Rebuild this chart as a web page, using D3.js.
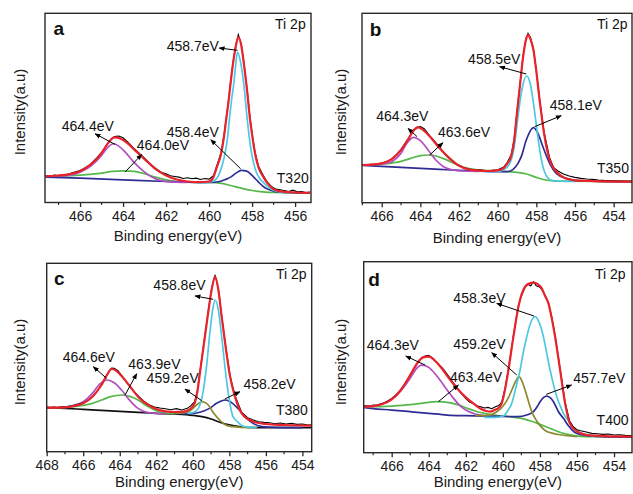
<!DOCTYPE html>
<html><head><meta charset="utf-8">
<script src="https://cdn.jsdelivr.net/npm/d3@7"></script>
<style>body{margin:0;background:#fff}svg{display:block}</style>
</head><body>
<svg id="chart" width="633" height="494"></svg>
<script>
// ---------- DATA (binding energy eV, intensity a.u.) ----------
// Panel a : T320
const aData = [[467.6,80],[467.4,78],[467.2,82],[467.0,81],[466.8,84],[466.6,83],[466.4,88],[466.2,92],[466.0,96],[465.8,103],[465.6,110],[465.4,122],[465.2,135],[465.0,150],[464.8,168],[464.6,186],[464.4,198],[464.2,199],[464.0,194],[463.8,182],[463.5,163],[463.2,145],[463.0,133],[462.8,120],[462.6,108],[462.4,98],[462.2,90],[462.0,86],[461.8,80],[461.6,78],[461.4,76],[461.2,72],[461.0,74],[460.8,71],[460.6,73],[460.4,69],[460.2,72],[460.0,70],[459.8,80],[459.64,110],[459.44,150],[459.3,204],[459.21,250],[459.1,304],[459.02,350],[458.9,414],[458.78,464],[458.64,503],[458.5,474],[458.37,414],[458.25,350],[458.09,250],[457.97,194],[457.86,150],[457.7,109],[457.47,80],[457.3,62],[457.1,48],[456.9,40],[456.7,38],[456.5,36],[456.3,33],[456.1,37],[455.9,32],[455.7,33],[455.5,30],[455.3,31]];
const aEnvelope = [[467.6,79],[467.0,81],[466.5,85],[466.0,94],[465.5,114],[465.0,148],[464.7,178],[464.4,195],[464.1,191],[463.8,178],[463.5,160],[463.0,130],[462.5,101],[462.0,81],[461.5,69],[461.0,63],[460.5,61],[460.0,63],[459.8,76],[459.64,106],[459.44,146],[459.3,200],[459.21,246],[459.1,300],[459.02,346],[458.9,410],[458.78,460],[458.64,496],[458.5,470],[458.37,410],[458.25,346],[458.09,246],[457.97,190],[457.86,146],[457.7,105],[457.47,76],[457.25,55],[457.0,40],[456.5,32],[456.0,30],[455.3,29]];
const aPeak4587 = [[460.5,59],[460.0,61],[459.75,66],[459.5,90],[459.3,135],[459.15,190],[459.06,246],[458.95,310],[458.87,346],[458.78,400],[458.68,451],[458.55,425],[458.37,346],[458.22,246],[458.1,180],[458.0,140],[457.85,100],[457.65,72],[457.47,60],[457.2,44],[457.0,36],[456.5,30],[456.0,29]];
const aPeak4584 = [[467.6,76],[466.0,73],[464.0,68],[462.0,63],[461.0,61],[460.0,60],[459.5,63],[459.2,70],[459.0,76],[458.75,88],[458.5,96],[458.25,94],[458.0,81],[457.7,61],[457.4,44],[457.0,34],[456.5,30],[456.0,29],[455.3,29]];
const aPeak4644 = [[467.6,78],[466.5,82],[466.0,91],[465.5,109],[465.0,141],[464.7,166],[464.45,176],[464.2,169],[463.9,151],[463.5,121],[463.0,91],[462.5,71],[462.0,63],[461.5,61],[461.0,60]];
const aPeak4640 = [[467.6,78],[467.0,79],[466.0,82],[465.0,88],[464.5,93],[464.0,95],[463.5,93],[463.0,86],[462.5,76],[462.0,68],[461.5,63],[461.0,61],[460.0,60],[459.5,58],[459.0,51],[458.5,43],[458.0,36],[457.5,32],[457.0,30],[456.0,29],[455.3,29]];

// Panel b : T350
const bData = [[467.0,114],[466.8,112],[466.6,115],[466.4,114],[466.2,117],[466.0,119],[465.8,122],[465.6,127],[465.4,135],[465.2,146],[465.0,160],[464.8,177],[464.6,195],[464.4,215],[464.2,226],[464.0,228],[463.8,222],[463.5,200],[463.2,180],[463.0,165],[462.7,146],[462.4,130],[462.1,115],[461.8,106],[461.5,101],[461.2,98],[460.9,99],[460.6,96],[460.3,97],[460.0,99],[459.7,106],[459.5,121],[459.3,144],[459.15,190],[459.0,274],[458.85,354],[458.7,434],[458.55,490],[458.43,508],[458.3,495],[458.15,462],[458.03,410],[457.83,310],[457.6,212],[457.31,134],[457.1,105],[456.88,95],[456.6,86],[456.3,80],[456.0,76],[455.7,73],[455.4,71],[455.1,70],[454.8,68],[454.5,67],[454.0,66],[453.5,65],[453.05,64]];
const bEnvelope = [[467.0,113],[466.5,114],[466.0,118],[465.5,130],[465.0,158],[464.6,193],[464.3,220],[464.1,226],[463.9,220],[463.5,198],[463.0,163],[462.5,133],[462.0,111],[461.5,100],[461.0,96],[460.5,95],[460.0,97],[459.7,104],[459.5,118],[459.3,140],[459.15,185],[459.0,270],[458.85,350],[458.7,430],[458.55,485],[458.42,503],[458.3,490],[458.15,458],[458.03,408],[457.83,308],[457.6,208],[457.31,128],[456.88,88],[456.5,73],[456.0,67],[455.0,65],[453.05,63]];
const bPeak4585 = [[460.5,93],[460.0,94],[459.7,99],[459.4,115],[459.15,165],[458.95,258],[458.75,338],[458.5,380],[458.3,353],[458.1,278],[457.9,188],[457.7,118],[457.45,78],[457.2,67],[456.8,65],[456.0,64]];
const bPeak4581 = [[467.0,112],[466.0,109],[465.0,106],[464.0,103],[463.0,100],[462.0,97],[461.0,95],[460.0,93],[459.5,93],[459.2,100],[458.95,118],[458.78,138],[458.52,188],[458.15,225],[457.9,206],[457.66,168],[457.31,118],[456.97,88],[456.45,73],[456.0,67],[455.0,65],[453.05,63]];
const bPeak4643 = [[467.0,113],[466.0,116],[465.5,123],[465.0,148],[464.7,178],[464.35,196],[464.0,186],[463.6,158],[463.2,128],[462.8,108],[462.3,98],[461.8,95],[461.0,94]];
const bPeak4636 = [[467.0,113],[466.0,116],[465.0,124],[464.5,133],[464.0,141],[463.6,143],[463.2,140],[462.7,130],[462.2,116],[461.7,105],[461.0,98],[460.0,95],[459.5,93],[459.0,91],[458.5,86],[458.0,76],[457.5,68],[457.0,65],[455.0,64],[453.05,63]];

// Panel c : T380
const cData = [[468.0,133],[467.8,131],[467.6,134],[467.4,132],[467.2,135],[467.0,134],[466.8,136],[466.6,138],[466.4,141],[466.2,144],[466.0,147],[465.8,152],[465.6,160],[465.4,170],[465.2,185],[465.0,202],[464.8,222],[464.6,240],[464.45,251],[464.3,250],[464.1,243],[463.9,229],[463.6,206],[463.3,185],[463.0,168],[462.7,152],[462.4,141],[462.1,134],[461.8,131],[461.5,129],[461.2,126],[460.9,129],[460.6,125],[460.3,130],[460.1,138],[459.9,150],[459.75,184],[459.6,244],[459.45,304],[459.3,364],[459.15,424],[458.97,490],[458.78,530],[458.6,488],[458.42,408],[458.18,308],[457.96,228],[457.69,168],[457.32,118],[457.0,102],[456.7,95],[456.4,90],[456.1,88],[455.8,87],[455.5,84],[455.2,86],[454.9,83],[454.6,85],[454.3,82],[454.0,83],[453.7,80],[453.49,81]];
const cEnvelope = [[468.0,132],[467.0,133],[466.5,137],[466.0,145],[465.5,165],[465.0,200],[464.7,230],[464.45,248],[464.2,243],[463.9,227],[463.5,200],[463.0,165],[462.5,142],[462.0,128],[461.5,121],[461.0,119],[460.5,120],[460.2,126],[459.9,145],[459.75,180],[459.6,240],[459.45,300],[459.3,360],[459.15,420],[458.97,485],[458.78,525],[458.6,485],[458.42,405],[458.18,305],[457.96,225],[457.69,165],[457.32,115],[456.69,90],[456.0,83],[455.0,80],[453.49,78]];
const cPeak4588 = [[460.3,115],[460.0,117],[459.7,130],[459.45,175],[459.25,255],[459.05,365],[458.9,430],[458.78,455],[458.6,425],[458.42,345],[458.2,235],[458.0,155],[457.8,105],[457.55,90],[457.3,78],[457.0,74],[456.5,72]];
const cPeak4592 = [[461.0,115],[460.5,116],[460.1,125],[459.8,140],[459.5,150],[459.15,140],[458.85,115],[458.5,93],[458.2,80],[457.8,75],[457.3,73],[456.5,72]];
const cPeak4582 = [[461.0,115],[460.3,114],[459.8,116],[459.4,122],[459.0,133],[458.7,145],[458.45,152],[458.2,155],[457.9,148],[457.5,128],[457.1,102],[456.7,85],[456.2,75],[455.5,73],[454.0,72]];
const cPeak4646 = [[468.0,132],[467.0,134],[466.5,139],[466.0,150],[465.5,175],[465.1,203],[464.7,215],[464.3,207],[463.9,185],[463.5,157],[463.0,130],[462.5,118],[462.0,115],[461.5,114]];
const cPeak4639 = [[468.0,132],[467.0,133],[466.0,139],[465.5,145],[465.0,155],[464.5,165],[463.9,170],[463.4,165],[463.0,155],[462.5,137],[462.0,123],[461.5,116],[461.0,114]];
const cBackground = [[468.0,132],[467.0,130],[466.0,127],[465.0,124],[464.0,121],[463.0,118],[462.0,115],[461.0,113],[460.0,109],[459.5,105],[459.0,98],[458.6,90],[458.2,83],[457.8,78],[457.3,74],[456.5,72],[455.0,72],[453.49,72]];

// Panel d : T400
const dData = [[467.6,137],[467.4,141],[467.2,139],[467.0,143],[466.8,142],[466.6,147],[466.4,150],[466.2,156],[466.0,163],[465.8,172],[465.6,183],[465.4,198],[465.2,213],[465.0,232],[464.8,252],[464.6,270],[464.4,284],[464.2,290],[464.0,292],[463.8,284],[463.5,268],[463.2,250],[462.9,228],[462.6,204],[462.3,182],[462.0,162],[461.8,152],[461.6,148],[461.4,141],[461.2,138],[461.0,134],[460.8,136],[460.6,132],[460.4,138],[460.2,142],[460.06,152],[459.88,194],[459.7,252],[459.43,352],[459.16,442],[459.0,470],[458.8,496],[458.65,506],[458.5,500],[458.35,513],[458.2,501],[458.05,498],[457.9,490],[457.72,472],[457.54,450],[457.35,404],[457.18,352],[456.91,252],[456.64,152],[456.4,96],[456.2,78],[456.0,69],[455.8,66],[455.5,62],[455.2,58],[454.9,57],[454.6,55],[454.3,56],[454.0,53],[453.7,54],[453.4,52],[453.03,51]];
const dEnvelope = [[467.6,138],[467.0,140],[466.5,146],[466.0,160],[465.5,188],[465.0,233],[464.6,270],[464.3,286],[464.0,288],[463.7,278],[463.3,253],[462.9,223],[462.5,195],[462.0,166],[461.6,148],[461.2,132],[460.9,125],[460.69,123],[460.45,128],[460.2,136],[460.06,148],[459.88,190],[459.7,248],[459.43,348],[459.16,438],[458.8,498],[458.55,508],[458.35,510],[458.1,505],[457.9,493],[457.72,470],[457.54,448],[457.35,400],[457.18,348],[456.91,248],[456.64,148],[456.4,90],[456.1,68],[455.8,58],[455.3,52],[454.5,50],[453.03,48]];
const dPeak4583 = [[461.0,106],[460.4,106],[459.97,110],[459.75,125],[459.52,148],[459.3,195],[459.07,248],[458.9,300],[458.71,348],[458.5,390],[458.26,408],[458.05,392],[457.81,348],[457.63,298],[457.45,248],[457.27,205],[457.09,168],[456.9,140],[456.73,118],[456.46,96],[456.2,76],[455.9,62],[455.5,54],[455.0,50]];
const dPeak4592 = [[461.5,112],[461.0,111],[460.6,115],[460.33,123],[460.1,133],[459.88,148],[459.7,165],[459.52,188],[459.3,215],[459.13,228],[458.95,212],[458.8,188],[458.65,160],[458.53,138],[458.4,118],[458.26,103],[458.0,82],[457.7,66],[457.3,58],[456.8,53],[456.0,48]];
const dPeak4577 = [[467.6,136],[467.0,132],[466.0,128],[465.0,123],[464.0,118],[463.0,113],[462.0,111],[461.0,110],[460.0,109],[459.2,108],[458.71,113],[458.35,123],[458.15,138],[457.99,153],[457.8,166],[457.63,170],[457.45,165],[457.27,153],[457.0,123],[456.73,103],[456.45,80],[456.15,62],[455.8,54],[455.0,49],[453.03,47]];
const dPeak4643 = [[467.6,138],[467.0,140],[466.5,146],[466.0,160],[465.5,186],[465.0,223],[464.7,250],[464.38,263],[464.0,256],[463.6,233],[463.2,203],[462.8,173],[462.4,146],[462.0,128],[461.5,116],[461.0,111]];
const dPeak4634 = [[467.6,138],[467.0,138],[466.0,140],[465.0,144],[464.3,149],[463.5,153],[463.0,151],[462.5,145],[462.0,135],[461.5,125],[461.0,118],[460.5,113],[460.0,110],[459.5,107],[459.0,103],[458.5,95],[458.0,85],[457.5,74],[457.0,63],[456.5,55],[456.0,50],[455.0,48],[453.03,47]];

// Axis tick values
const ticksA = [466, 464, 462, 460, 458, 456];
const ticksB = [466, 464, 462, 460, 458, 456, 454];
const ticksC = [468, 466, 464, 462, 460, 458, 456, 454];
const ticksD = [466, 464, 462, 460, 458, 456, 454];

// Annotations: text, baseline point [eV, intensity], arrow from peak to label
const aNotes = [
  {t:"a", at:[467.24,501], bold:true},
  {t:"Ti 2p", at:[456.93,521]},
  {t:"T320", at:[456.85,58]},
  {t:"458.7eV", at:[461.97,454], from:[458.68,456], to:[459.53,463]},
  {t:"464.4eV", at:[466.85,213], from:[464.37,174], to:[465.3,206]},
  {t:"464.0eV", at:[463.36,156], from:[463.91,91], to:[463.13,144]},
  {t:"458.4eV", at:[461.97,196], from:[458.53,101], to:[459.92,188]}
];
const bNotes = [
  {t:"b", at:[466.62,500], bold:true},
  {t:"Ti 2p", at:[454.86,520]},
  {t:"T350", at:[454.86,88]},
  {t:"458.5eV", at:[461.53,416], from:[458.52,386], to:[459.9,408]},
  {t:"464.3eV", at:[466.28,246], from:[464.17,198], to:[464.64,223]},
  {t:"463.6eV", at:[463.09,196], from:[463.52,143], to:[462.83,180]},
  {t:"458.1eV", at:[457.31,278], from:[458.09,228], to:[456.71,261]}
];
const cNotes = [
  {t:"c", at:[467.6,500], bold:true},
  {t:"Ti 2p", at:[455.45,517]},
  {t:"T380", at:[455.45,110]},
  {t:"458.8eV", at:[462.16,485], from:[458.88,457], to:[459.88,467]},
  {t:"464.6eV", at:[467.12,270], from:[464.72,220], to:[465.45,255]},
  {t:"463.9eV", at:[463.53,249], from:[463.71,170], to:[463.07,234]},
  {t:"459.2eV", at:[462.53,205], from:[459.51,153], to:[460.43,188]},
  {t:"458.2eV", at:[457.23,187], from:[458.25,158], to:[457.42,180]}
];
const dNotes = [
  {t:"d", at:[467.26,500], bold:true},
  {t:"Ti 2p", at:[455.03,520]},
  {t:"T400", at:[454.94,83]},
  {t:"458.3eV", at:[462.67,448], from:[458.32,410], to:[460.33,448]},
  {t:"459.2eV", at:[462.67,311], from:[459.25,233], to:[460.6,300]},
  {t:"464.3eV", at:[467.35,308], from:[464.2,263], to:[465.24,290]},
  {t:"463.4eV", at:[462.85,211], from:[463.48,153], to:[462.4,203]},
  {t:"457.7eV", at:[456.2,208], from:[457.66,175], to:[456.29,203]}
];

// ---------- STYLE / LAYOUT ----------
const FONT = "'Liberation Sans', Arial, Helvetica, sans-serif";
const COL = {red:"#e8232b", cyan:"#4ec7e2", navy:"#2d2d95", magenta:"#b24ec0", green:"#56b84a", olive:"#8c8a2e", black:"#111111"};

const panels = [
  {frame:{x:45, y:13.3, w:266, h:189.2}, xDomain:[467.63,455.26], yMax:567, ticks:ticksA, titleY:240.5, ylabX:19, ylabY:112,
   fits:[["green",aPeak4640],["navy",aPeak4584],["magenta",aPeak4644],["cyan",aPeak4587]], data:aData, env:aEnvelope, notes:aNotes},
  {frame:{x:362, y:13.3, w:270, h:189.4}, xDomain:[467.02,453.05], yMax:568, ticks:ticksB, titleY:242.5, ylabX:340.5, ylabY:112,
   fits:[["green",bPeak4636],["navy",bPeak4581],["magenta",bPeak4643],["cyan",bPeak4585]], data:bData, env:bEnvelope, notes:bNotes},
  {frame:{x:46.7, y:263.3, w:265, h:188.4}, xDomain:[468,453.49], yMax:565, ticks:ticksC, titleY:486.5, ylabX:19, ylabY:362,
   fits:[["black",cBackground],["green",cPeak4639],["magenta",cPeak4646],["navy",cPeak4582],["olive",cPeak4592],["cyan",cPeak4588]], data:cData, env:cEnvelope, notes:cNotes},
  {frame:{x:363.7, y:261.7, w:268.3, h:191}, xDomain:[467.51,453.03], yMax:573, ticks:ticksD, titleY:487, ylabX:340.5, ylabY:362,
   fits:[["green",dPeak4634],["navy",dPeak4577],["magenta",dPeak4643],["olive",dPeak4592],["cyan",dPeak4583]], data:dData, env:dEnvelope, notes:dNotes}
];

const svg = d3.select("#chart");
const defs = svg.append("defs");
defs.append("marker").attr("id","arrow").attr("viewBox","0 0 10 10").attr("refX",9).attr("refY",5)
  .attr("markerWidth",6).attr("markerHeight",6).attr("markerUnits","userSpaceOnUse").attr("orient","auto")
  .append("path").attr("d","M0,1 L10,5 L0,9 Z").attr("fill","#000");

panels.forEach((p, i) => {
  const f = p.frame;
  const g = svg.append("g").attr("transform", `translate(${f.x},${f.y})`);
  const x = d3.scaleLinear().domain(p.xDomain).range([0, f.w]);
  const y = d3.scaleLinear().domain([0, p.yMax]).range([f.h, 0]);
  const cid = "clip" + i;
  defs.append("clipPath").attr("id", cid).append("rect").attr("width", f.w).attr("height", f.h);
  const plot = g.append("g").attr("clip-path", `url(#${cid})`);
  const smooth = d3.line().x(d => x(d[0])).y(d => y(d[1])).curve(d3.curveMonotoneX);
  const raw = d3.line().x(d => x(d[0])).y(d => y(d[1]));

  p.fits.forEach(([c, arr]) => {
    plot.append("path").datum(arr).attr("d", smooth).attr("fill","none")
      .attr("stroke", COL[c]).attr("stroke-width", 1.7).attr("stroke-linejoin","round");
  });
  plot.append("path").datum(p.data).attr("d", raw).attr("fill","none")
    .attr("stroke", "#000").attr("stroke-width", 1.1);
  plot.append("path").datum(p.env).attr("d", smooth).attr("fill","none")
    .attr("stroke", COL.red).attr("stroke-width", 2.2).attr("stroke-linejoin","round");

  g.append("rect").attr("width", f.w).attr("height", f.h).attr("fill","none")
    .attr("stroke","#2a2a2a").attr("stroke-width",1.4);

  const axis = d3.axisBottom(x).tickValues(p.ticks).tickSize(4.5).tickPadding(4).tickSizeOuter(0)
    .tickFormat(d3.format("d"));
  const ag = g.append("g").attr("transform", `translate(0,${f.h})`).call(axis);
  ag.select(".domain").remove();
  ag.selectAll(".tick line").attr("stroke","#2a2a2a").attr("stroke-width",1.3);
  ag.selectAll(".tick text").attr("font-family", FONT).attr("font-size", 14).attr("fill","#1a1a1a");
  const minor = d3.range(Math.ceil(Math.min(...p.xDomain)), Math.max(...p.xDomain), 1).filter(v => v % 2 !== 0);
  ag.selectAll(".minor").data(minor).enter().append("line").attr("class","minor")
    .attr("x1", d => x(d)).attr("x2", d => x(d)).attr("y1", 0).attr("y2", 2.5)
    .attr("stroke","#2a2a2a").attr("stroke-width",1.2);

  svg.append("text").attr("x", f.x + f.w/2).attr("y", p.titleY).attr("text-anchor","middle")
    .attr("font-family", FONT).attr("font-size", 15).attr("fill","#1a1a1a").text("Binding energy(eV)");
  svg.append("text").attr("transform", `translate(${p.ylabX},${p.ylabY}) rotate(-90)`)
    .attr("text-anchor","middle").attr("dominant-baseline","central")
    .attr("font-family", FONT).attr("font-size", 15).attr("fill","#1a1a1a").text("Intensity(a.u)");

  p.notes.forEach(n => {
    if (n.from) {
      g.append("line").attr("x1", x(n.from[0])).attr("y1", y(n.from[1]))
        .attr("x2", x(n.to[0])).attr("y2", y(n.to[1]))
        .attr("stroke","#000").attr("stroke-width",1).attr("marker-end","url(#arrow)");
    }
    g.append("text").attr("x", x(n.at[0])).attr("y", y(n.at[1]))
      .attr("font-family", FONT).attr("font-size", n.bold ? 19 : 14)
      .attr("font-weight", n.bold ? "bold" : "normal").attr("fill","#111").text(n.t);
  });
});
</script>
</body></html>
